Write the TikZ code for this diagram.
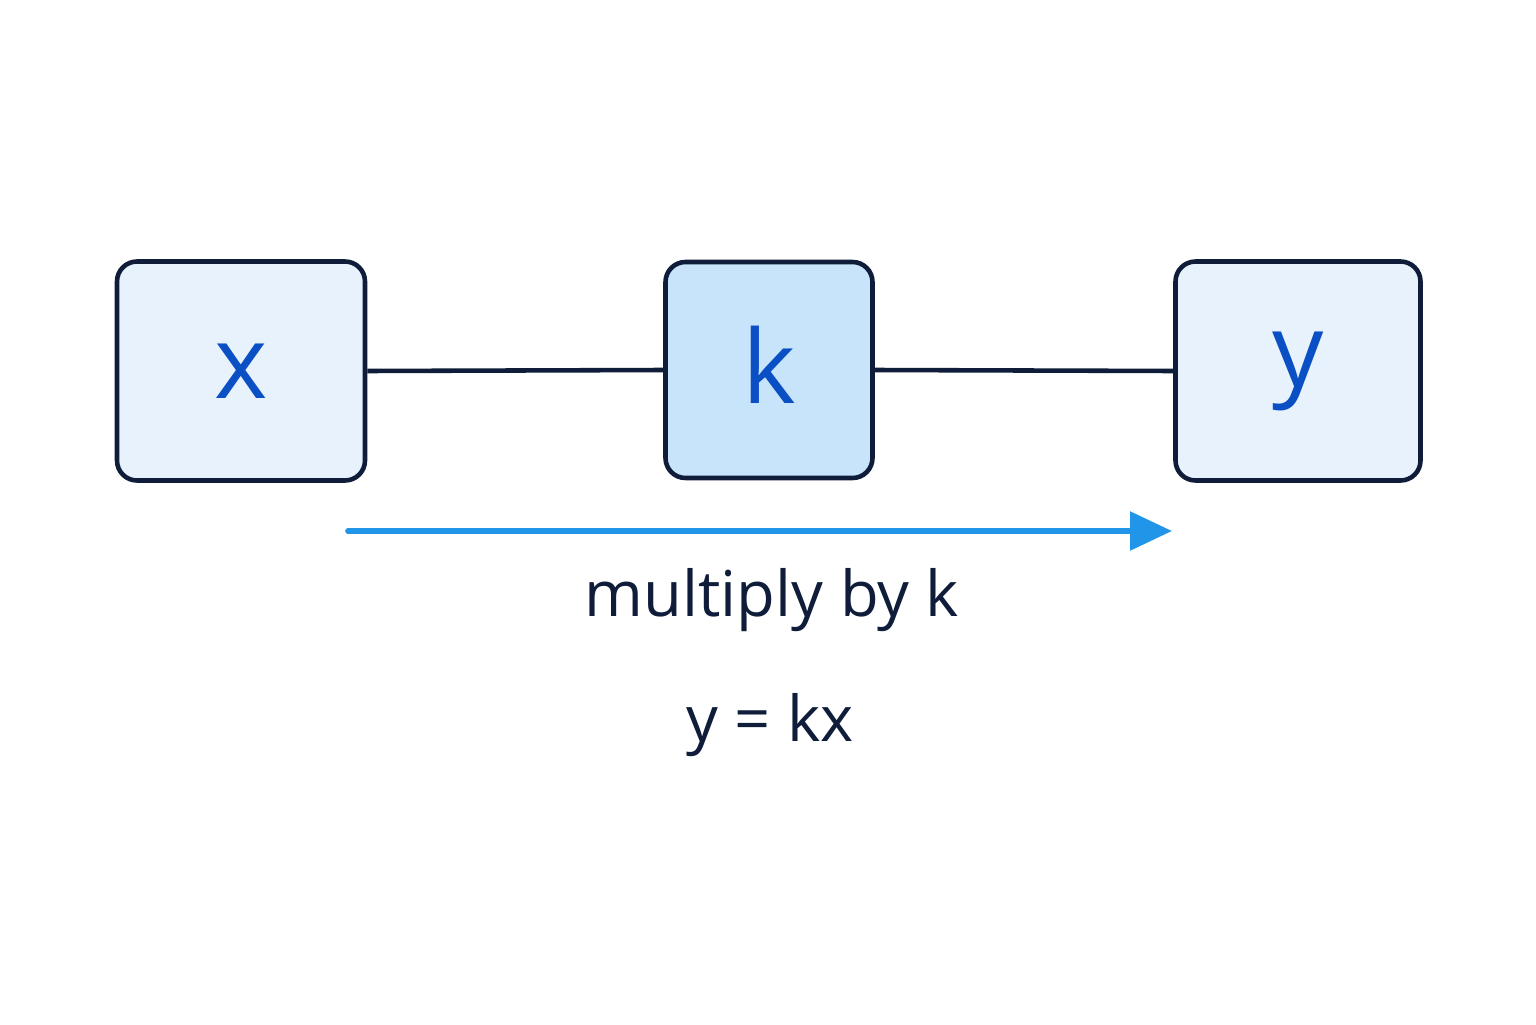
\documentclass[tikz,border=0pt]{standalone}
\usepackage{fontspec}
\setmainfont{Open Sans}
\usetikzlibrary{positioning,arrows.meta}
\definecolor{boxline}{HTML}{0F1D3A}
\definecolor{boxfill}{HTML}{E8F2FD}
\definecolor{kfill}{HTML}{C8E4FA}
\definecolor{letter}{HTML}{0A4FC4}
\definecolor{arrowblue}{HTML}{2196E8}
\tikzset{
    var/.style={draw=boxline,line width=1.3pt,rounded corners=0.2cm,fill=boxfill,
        text=letter,font=\fontsize{29}{34}\selectfont,inner sep=0pt},
    link/.style={draw=boxline,line width=1.3pt},
    caption/.style={text=boxline,font=\fontsize{18}{22}\selectfont}
}
\begin{document}
\begin{tikzpicture}
    \useasboundingbox[fill=white] (0,0) rectangle (15.36,10.24);

    % boxes
    \node[var,minimum width=2.48cm,minimum height=2.19cm] (x) at (2.41,6.53) {\raisebox{-0.4ex}{x}};
    \node[var,fill=kfill,minimum width=2.07cm,minimum height=2.16cm] (k) at (7.69,6.54) {\raisebox{0.2ex}{k}};
    \node[var,minimum width=2.45cm,minimum height=2.19cm] (y) at (12.98,6.53) {\raisebox{0.1ex}{y}};

    % links
    \draw[link] (x.east) -- (k.west);
    \draw[link] (k.east) -- (y.west);

    % direction
    \coordinate (from) at (3.48,4.93);
    \coordinate (to) at (11.72,4.93);
    \draw[-{Triangle[length=0.42cm,width=0.38cm]},line cap=round,color=arrowblue,line width=1.6pt] (from) -- (to);

    % texts
    \node[caption] (rule) at (7.72,4.24) {multiply by k};
    \node[caption] (eq) at (7.70,2.99) {y = kx};
\end{tikzpicture}
\end{document}
